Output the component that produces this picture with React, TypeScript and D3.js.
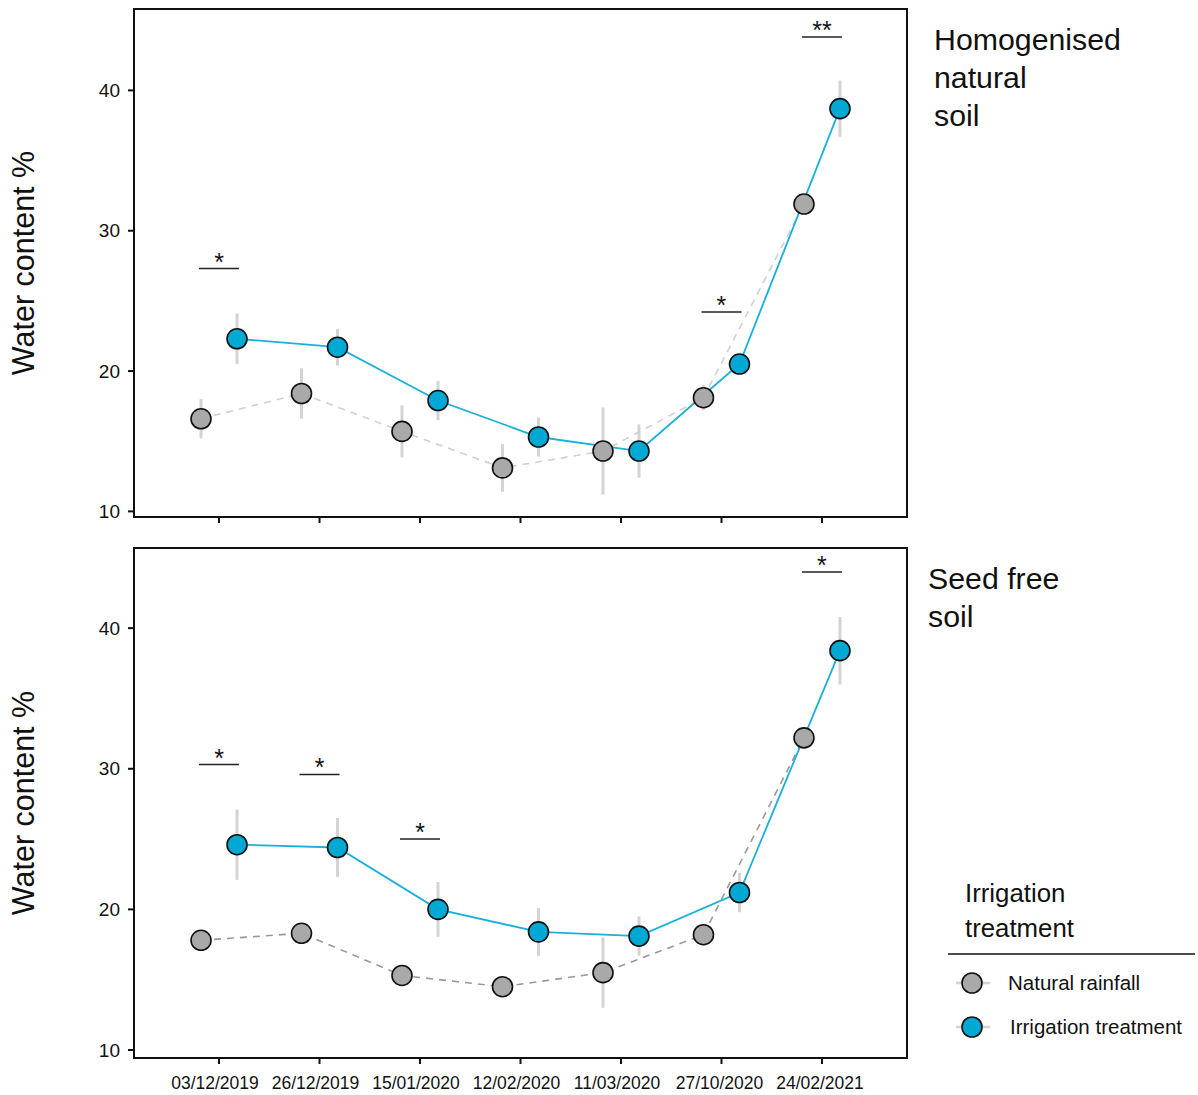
import * as d3 from "d3";

const dates = ["03/12/2019", "26/12/2019", "15/01/2020", "12/02/2020", "11/03/2020", "27/10/2020", "24/02/2021"];

const homNatural = [16.6, 18.4, 15.7, 13.1, 14.3, 18.1, 31.9];
const homNaturalSe = [1.4, 1.8, 1.85, 1.7, 3.1, 0.9, 0.5];
const homIrrig = [22.3, 21.7, 17.9, 15.3, 14.3, 20.5, 38.7];
const homIrrigSe = [1.8, 1.3, 1.4, 1.4, 1.9, 0.6, 2.0];

const seedNatural = [17.8, 18.3, 15.3, 14.5, 15.5, 18.2, 32.2];
const seedNaturalSe = [0.6, 0.7, 0.5, 0.5, 2.5, 0.3, 0.4];
const seedIrrig = [24.6, 24.4, 20.0, 18.4, 18.1, 21.2, 38.4];
const seedIrrigSe = [2.5, 2.1, 1.95, 1.7, 1.4, 1.4, 2.4];

// significance marks: date index, label, height (water content)
const homSig = [
  { i: 0, label: "*", v: 27.3 },
  { i: 5, label: "*", v: 24.2 },
  { i: 6, label: "**", v: 43.8 },
];
const seedSig = [
  { i: 0, label: "*", v: 30.3 },
  { i: 1, label: "*", v: 29.6 },
  { i: 2, label: "*", v: 25.0 },
  { i: 6, label: "*", v: 44.0 },
];

const yTicks = [10, 20, 30, 40];
const legendItems = ["Natural rainfall", "Irrigation treatment"];

const FONT = "'Liberation Sans', Arial, sans-serif";
const GRAY = "#a9a9a9";
const BLUE = "#00a8d4";
const BLUE_LINE = "#1ab0dc";
const ERR = "#d4d4d4";

const left = 134;
const right = 907;
const dodge = 18;

const x = d3.scalePoint<string>().domain(dates).range([left, right]).padding(0.846);

function Panel({ top, bottom, domain, natural, naturalSe, irrig, irrigSe, sig, dashColor, label, showX }) {
  const y = d3.scaleLinear().domain(domain).range([bottom, top]);
  const natPts = natural.map((v, i) => [x(dates[i])! - dodge, y(v)] as [number, number]);
  const irrPts = irrig.map((v, i) => [x(dates[i])! + dodge, y(v)] as [number, number]);
  const path = d3.line();
  return (
    <g>
      {/* error bars */}
      {natural.map((v, i) => (
        <line key={"ne" + i} x1={natPts[i][0]} x2={natPts[i][0]} y1={y(v - naturalSe[i])} y2={y(v + naturalSe[i])} stroke={ERR} strokeWidth={3} />
      ))}
      {irrig.map((v, i) => (
        <line key={"ie" + i} x1={irrPts[i][0]} x2={irrPts[i][0]} y1={y(v - irrigSe[i])} y2={y(v + irrigSe[i])} stroke={ERR} strokeWidth={3} />
      ))}
      <path d={path(natPts) || ""} fill="none" stroke={dashColor} strokeWidth={1.6} strokeDasharray="7,6" />
      <path d={path(irrPts) || ""} fill="none" stroke={BLUE_LINE} strokeWidth={1.8} />
      {natPts.map((p, i) => (
        <circle key={"nc" + i} cx={p[0]} cy={p[1]} r={10} fill={GRAY} stroke="#111" strokeWidth={1.6} />
      ))}
      {irrPts.map((p, i) => (
        <circle key={"ic" + i} cx={p[0]} cy={p[1]} r={10} fill={BLUE} stroke="#111" strokeWidth={1.6} />
      ))}
      {sig.map((s, i) => {
        const cx = x(dates[s.i])!;
        return (
          <g key={"s" + i}>
            <line x1={cx - 20} x2={cx + 20} y1={y(s.v)} y2={y(s.v)} stroke="#222" strokeWidth={1.5} />
            <text x={cx} y={y(s.v) + 2} textAnchor="middle" fontSize={25} fontFamily={FONT} fill="#111">
              {s.label}
            </text>
          </g>
        );
      })}
      {/* frame */}
      <rect x={left} y={top} width={right - left} height={bottom - top} fill="none" stroke="#111" strokeWidth={2} />
      {yTicks.map((t) => (
        <g key={"yt" + t}>
          <line x1={left - 6} x2={left} y1={y(t)} y2={y(t)} stroke="#111" strokeWidth={2} />
          <text x={left - 14} y={y(t)} dy="0.35em" textAnchor="end" fontSize={19} fontFamily={FONT} fill="#111">
            {t}
          </text>
        </g>
      ))}
      {dates.map((d, i) => (
        <g key={"xt" + d}>
          <line x1={x(d)} x2={x(d)} y1={bottom} y2={bottom + 6} stroke="#111" strokeWidth={2} />
          {showX && (
            <text x={x(d)! - 4 + (i > 4 ? 2 : 0)} y={bottom + 31} textAnchor="middle" fontSize={17.5} fontFamily={FONT} fill="#111">
              {d}
            </text>
          )}
        </g>
      ))}
      <text
        transform={`translate(${34},${(top + bottom) / 2}) rotate(-90)`}
        textAnchor="middle"
        fontSize={30.5}
        fontFamily={FONT}
        fill="#111"
      >
        Water content %
      </text>
      {label.lines.map((l, i) => (
        <text key={"fl" + i} x={label.x} y={top + 41 + i * 38} fontSize={30.3} fontFamily={FONT} fill="#111">
          {l}
        </text>
      ))}
    </g>
  );
}

export default function App() {
  return (
    <svg width={1198} height={1095} style={{ position: "absolute", left: 0, top: 0, background: "#fff" }}>
      <Panel
        top={9}
        bottom={517}
        domain={[9.6, 45.8]}
        natural={homNatural}
        naturalSe={homNaturalSe}
        irrig={homIrrig}
        irrigSe={homIrrigSe}
        sig={homSig}
        dashColor="#d0d0d0"
        label={{ x: 934, lines: ["Homogenised", "natural", "soil"] }}
        showX={false}
      />
      <Panel
        top={548}
        bottom={1058}
        domain={[9.43, 45.7]}
        natural={seedNatural}
        naturalSe={seedNaturalSe}
        irrig={seedIrrig}
        irrigSe={seedIrrigSe}
        sig={seedSig}
        dashColor="#999999"
        label={{ x: 928, lines: ["Seed free", "soil"] }}
        showX={true}
      />
      {/* legend */}
      <g fontFamily={FONT} fill="#111">
        <text x={965} y={902} fontSize={25.8}>Irrigation</text>
        <text x={965} y={937} fontSize={25.8}>treatment</text>
        <line x1={948} x2={1195} y1={954} y2={954} stroke="#111" strokeWidth={1.5} />
        {legendItems.map((item, i) => {
          const cy = 983 + i * 44;
          return (
            <g key={item}>
              <line x1={956} x2={990} y1={cy} y2={cy} stroke="#d4d4d4" strokeWidth={2.5} />
              <circle cx={972} cy={cy} r={10} fill={i === 0 ? GRAY : BLUE} stroke="#111" strokeWidth={1.6} />
              <text x={i === 0 ? 1008 : 1010} y={cy} dy="0.35em" fontSize={20.5}>
                {item}
              </text>
            </g>
          );
        })}
      </g>
    </svg>
  );
}
